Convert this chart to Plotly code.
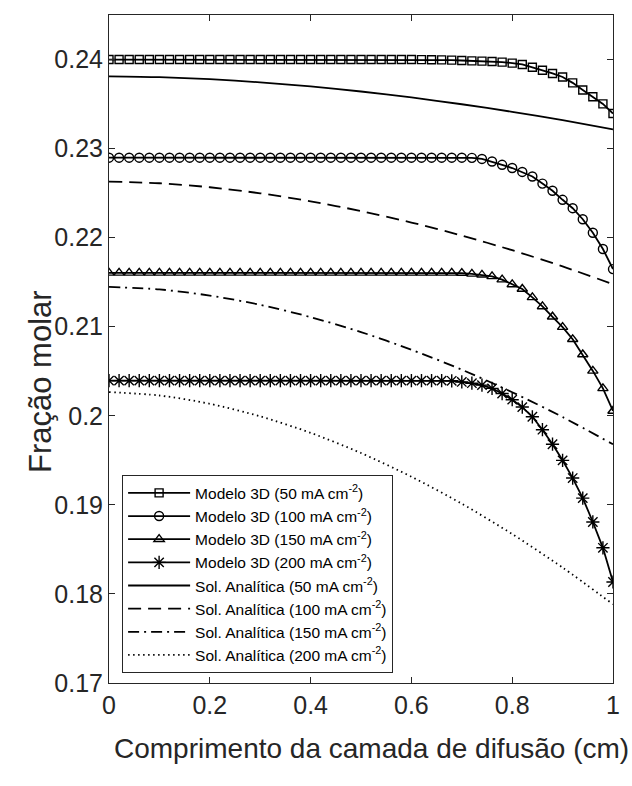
import plotly.graph_objects as go

# ---------------- data ----------------
x_model = [0.00, 0.02, 0.04, 0.06, 0.08, 0.10, 0.12, 0.14, 0.16, 0.18,
           0.20, 0.22, 0.24, 0.26, 0.28, 0.30, 0.32, 0.34, 0.36, 0.38,
           0.40, 0.42, 0.44, 0.46, 0.48, 0.50, 0.52, 0.54, 0.56, 0.58,
           0.60, 0.62, 0.64, 0.66, 0.68, 0.70, 0.72, 0.74, 0.76, 0.78,
           0.80, 0.82, 0.84, 0.86, 0.88, 0.90, 0.92, 0.94, 0.96, 0.98, 1.00]

m50 = [0.2400, 0.2400, 0.2400, 0.2400, 0.2400, 0.2400, 0.2400, 0.2400, 0.2400, 0.2400,
       0.2400, 0.2400, 0.2400, 0.2400, 0.2400, 0.2400, 0.2400, 0.2400, 0.2400, 0.2400,
       0.2400, 0.2400, 0.2400, 0.2400, 0.2400, 0.2400, 0.2400, 0.2400, 0.2400, 0.2400,
       0.2400, 0.23999, 0.23998, 0.23996, 0.23993, 0.23989, 0.23985, 0.23982, 0.23978, 0.23971,
       0.23960, 0.23945, 0.23913, 0.23880, 0.23844, 0.23804, 0.23738, 0.23658, 0.23582, 0.23502, 0.23394]

m100 = [0.22898, 0.22898, 0.22898, 0.22898, 0.22898, 0.22898, 0.22898, 0.22898, 0.22898, 0.22898,
        0.22898, 0.22898, 0.22898, 0.22898, 0.22898, 0.22898, 0.22898, 0.22898, 0.22898, 0.22898,
        0.22898, 0.22898, 0.22898, 0.22898, 0.22898, 0.22898, 0.22898, 0.22898, 0.22898, 0.22898,
        0.22898, 0.22898, 0.22898, 0.22898, 0.22898, 0.22898, 0.22896, 0.22884, 0.22855, 0.22818,
        0.22782, 0.22738, 0.22687, 0.22607, 0.22527, 0.22425, 0.22331, 0.22207, 0.22055, 0.21873, 0.21647]

m150 = [0.21605, 0.21605, 0.21605, 0.21605, 0.21605, 0.21605, 0.21605, 0.21605, 0.21605, 0.21605,
        0.21605, 0.21605, 0.21605, 0.21605, 0.21605, 0.21605, 0.21605, 0.21605, 0.21605, 0.21605,
        0.21605, 0.21605, 0.21605, 0.21605, 0.21605, 0.21605, 0.21605, 0.21605, 0.21605, 0.21605,
        0.21605, 0.21605, 0.21605, 0.21605, 0.21605, 0.21603, 0.21594, 0.21583, 0.21565, 0.21529,
        0.21475, 0.21424, 0.21330, 0.21228, 0.21112, 0.20996, 0.20859, 0.20688, 0.20504, 0.20308, 0.20054]

m200 = [0.20395, 0.20395, 0.20395, 0.20395, 0.20395, 0.20395, 0.20395, 0.20395, 0.20395, 0.20395,
        0.20395, 0.20395, 0.20395, 0.20395, 0.20395, 0.20395, 0.20395, 0.20395, 0.20395, 0.20395,
        0.20395, 0.20395, 0.20395, 0.20395, 0.20395, 0.20395, 0.20395, 0.20395, 0.20395, 0.20395,
        0.20395, 0.20395, 0.20395, 0.20395, 0.20393, 0.20380, 0.20366, 0.20344, 0.20308, 0.20250,
        0.20181, 0.20098, 0.19989, 0.19844, 0.19681, 0.19500, 0.19301, 0.19076, 0.18808, 0.18518, 0.18134]

x_anal = [0.0, 0.1, 0.2, 0.3, 0.4, 0.5, 0.6, 0.7, 0.8, 0.9, 1.0]
a50 = [0.23812, 0.23802, 0.23779, 0.23744, 0.23698, 0.23641, 0.23574, 0.23498, 0.23413, 0.23319, 0.23216]
a100 = [0.22629, 0.22611, 0.22566, 0.22498, 0.22408, 0.22299, 0.22170, 0.22024, 0.21859, 0.21677, 0.21478]
a150 = [0.21447, 0.21419, 0.21350, 0.21246, 0.21108, 0.20940, 0.20742, 0.20518, 0.20265, 0.19986, 0.19680]
a200 = [0.20266, 0.20228, 0.20135, 0.19994, 0.19809, 0.19582, 0.19316, 0.19013, 0.18672, 0.18296, 0.17884]

x_ticks = [0, 0.2, 0.4, 0.6, 0.8, 1]
x_ticklabels = ["0", "0.2", "0.4", "0.6", "0.8", "1"]
y_ticks = [0.17, 0.18, 0.19, 0.20, 0.21, 0.22, 0.23, 0.24]
y_ticklabels = ["0.17", "0.18", "0.19", "0.2", "0.21", "0.22", "0.23", "0.24"]

model_names = ["Modelo 3D (50 mA cm<sup>-2</sup>)", "Modelo 3D (100 mA cm<sup>-2</sup>)",
               "Modelo 3D (150 mA cm<sup>-2</sup>)", "Modelo 3D (200 mA cm<sup>-2</sup>)"]
anal_names = ["Sol. Analítica (50 mA cm<sup>-2</sup>)", "Sol. Analítica (100 mA cm<sup>-2</sup>)",
              "Sol. Analítica (150 mA cm<sup>-2</sup>)", "Sol. Analítica (200 mA cm<sup>-2</sup>)"]
x_title = "Comprimento da camada de difusão (cm)"
y_title = "Fração molar"

# ---------------- styles ----------------
INK = "#000000"
AX = "#262626"
W, H = 632, 786
ML, MR, MT, MB = 109, 19, 15, 103
model_symbols = ["square-open", "circle-open", "triangle-up-open", "asterisk-open"]
model_sizes = [8, 9, 9, 11]
anal_dashes = ["solid", "13px,7px", "11px,5px,2px,5px", "1.5px,3.5px"]

fig = go.Figure()
for name, ys, sym, sz in zip(model_names, [m50, m100, m150, m200], model_symbols, model_sizes):
    fig.add_trace(go.Scatter(
        x=x_model, y=ys, name=name, mode="lines+markers",
        line=dict(color=INK, width=1.8),
        marker=dict(symbol=sym, size=sz, color=INK, line=dict(color=INK, width=1.4)),
    ))
for name, ys, dash in zip(anal_names, [a50, a100, a150, a200], anal_dashes):
    fig.add_trace(go.Scatter(
        x=x_anal, y=ys, name=name, mode="lines",
        line=dict(color=INK, width=1.8, dash=dash, shape="spline", smoothing=0.8),
    ))

axis_common = dict(
    showgrid=False, zeroline=False, showline=True, linecolor=AX, linewidth=1,
    mirror="ticks", ticks="inside", ticklen=6, tickwidth=1, tickcolor=AX,
    tickfont=dict(size=25, color=AX), automargin=False,
)

pw = W - ML - MR
ph = H - MT - MB

fig.update_layout(
    width=W, height=H,
    margin=dict(l=ML, r=MR, t=MT, b=MB),
    plot_bgcolor="white", paper_bgcolor="white",
    font=dict(family="Liberation Sans, Arial, sans-serif", color=AX),
    xaxis=dict(range=[0, 1], tickvals=x_ticks, ticktext=x_ticklabels, **axis_common),
    yaxis=dict(range=[0.17, 0.245], tickvals=y_ticks, ticktext=y_ticklabels, **axis_common),
    legend=dict(x=0.026, y=0.0145, xanchor="left", yanchor="bottom",
                bgcolor="white", bordercolor=AX, borderwidth=1,
                font=dict(size=15.5, color="#000000"), tracegroupgap=0, itemwidth=62),
    showlegend=True,
    annotations=[
        dict(text=x_title, xref="paper", yref="paper", showarrow=False,
             x=(371 - ML) / pw, y=-(748 - (MT + ph)) / ph, xanchor="center", yanchor="middle",
             font=dict(size=28, color=AX)),
        dict(text=y_title, xref="paper", yref="paper", showarrow=False, textangle=-90,
             x=-(ML - 40) / pw, y=1 - (382 - MT) / ph, xanchor="center", yanchor="middle",
             font=dict(size=31, color=AX)),
    ],
)

fig.write_html("out.html")
